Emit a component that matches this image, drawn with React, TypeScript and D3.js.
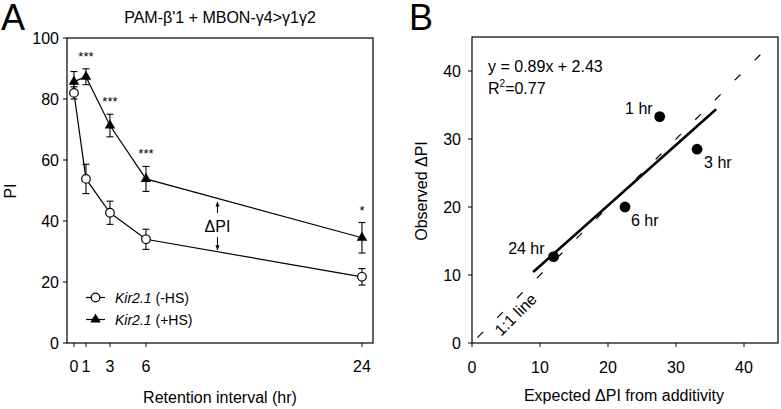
import React from "react";
import * as d3 from "d3";

// ---------- Panel A data ----------
const times = [0, 1, 3, 6, 24];
const timeTicks = [0, 1, 3, 6, 24];
const minusHS = [82, 53.8, 42.7, 34, 21.7];
const minusErr = [2, 4.8, 3.8, 3.3, 2.7];
const plusHS = [85.7, 87.3, 71.3, 53.8, 34.5];
const plusErr = [3.3, 2.6, 3.7, 4.1, 5];
const stars = ["", "***", "***", "***", "*"];
const yTicksA = [0, 20, 40, 60, 80, 100];
const deltaAt = 12;

// ---------- Panel B data ----------
const expected = [27.6, 33.1, 22.5, 12.0];
const observed = [33.3, 28.5, 20.0, 12.7];
const pointLabels = ["1 hr", "3 hr", "6 hr", "24 hr"];
const ticksB = [0, 10, 20, 30, 40];
const slope = 0.89;
const intercept = 2.43;
const fitRange = [9, 35.9];
const identityRange = [0.8, 44];

// label placement (style only)
const labelPos = [
  { dx: -7, dy: -3, anchor: "end" },
  { dx: 7, dy: 19, anchor: "start" },
  { dx: 6, dy: 19, anchor: "start" },
  { dx: -9, dy: -3, anchor: "end" },
];

const FONT = "'Liberation Sans', Arial, Helvetica, sans-serif";

export default function App() {
  // Panel A scales
  const xA = d3.scaleLinear().domain([-0.58, 24.92]).range([67, 373]);
  const yA = d3.scaleLinear().domain([0, 100]).range([343, 38]);
  // Panel B scales
  const xB = d3.scaleLinear().domain([0, 45]).range([472, 778]);
  const yB = d3.scaleLinear().domain([0, 45]).range([343, 37]);

  const lineA = d3
    .line<number>()
    .x((_, i) => xA(times[i]))
    .y((d) => yA(d));

  const tri = d3.symbol().type(d3.symbolTriangle).size(48)() as string;

  const errBar = (x: number, v: number, e: number, key: string) => (
    <g key={key} stroke="#000" strokeWidth={1.1}>
      <line x1={x} x2={x} y1={yA(v - e)} y2={yA(v + e)} />
      <line x1={x - 3.5} x2={x + 3.5} y1={yA(v - e)} y2={yA(v - e)} />
      <line x1={x - 3.5} x2={x + 3.5} y1={yA(v + e)} y2={yA(v + e)} />
    </g>
  );

  // delta PI arrows at t=12
  const upperAtDelta = d3.scaleLinear().domain([6, 24]).range([plusHS[3], plusHS[4]])(deltaAt);
  const lowerAtDelta = d3.scaleLinear().domain([6, 24]).range([minusHS[3], minusHS[4]])(deltaAt);
  const dX = xA(deltaAt) - 0.5;

  return (
    <svg
      width={781}
      height={409}
      style={{ position: "absolute", left: 0, top: 0, background: "#fff" }}
      fontFamily={FONT}
    >
      <defs>
        <marker id="ah" viewBox="0 0 10 10" refX="9" refY="5" markerWidth="5" markerHeight="6" orient="auto">
          <path d="M0,1 L10,5 L0,9 z" fill="#000" />
        </marker>
      </defs>
      <rect width={781} height={409} fill="#fff" />

      {/* ================= Panel A ================= */}
      <text x={1} y={30} fontSize={36}>A</text>
      <text x={220} y={23} fontSize={16} textAnchor="middle">PAM-β'1 + MBON-γ4&gt;γ1γ2</text>

      <rect x={67} y={38} width={306} height={305} fill="none" stroke="#000" strokeWidth={1.2} />

      {yTicksA.map((t) => (
        <g key={"ya" + t}>
          <line x1={63} x2={67} y1={yA(t)} y2={yA(t)} stroke="#000" />
          <text x={59} y={yA(t)} dy="0.36em" fontSize={16} textAnchor="end">{t}</text>
        </g>
      ))}
      {timeTicks.map((t) => (
        <g key={"xa" + t}>
          <line x1={xA(t)} x2={xA(t)} y1={343} y2={347} stroke="#000" />
          <text x={xA(t)} y={372} fontSize={16} textAnchor="middle">{t}</text>
        </g>
      ))}
      <text x={220} y={403} fontSize={16} textAnchor="middle">Retention interval (hr)</text>
      <text transform={`translate(16,191) rotate(-90)`} fontSize={16} textAnchor="middle">PI</text>

      {/* lines */}
      <path d={lineA(minusHS) || ""} fill="none" stroke="#000" strokeWidth={1.2} />
      <path d={lineA(plusHS) || ""} fill="none" stroke="#000" strokeWidth={1.2} />

      {/* error bars */}
      {times.map((t, i) => errBar(xA(t), minusHS[i], minusErr[i], "em" + i))}
      {times.map((t, i) => errBar(xA(t), plusHS[i], plusErr[i], "ep" + i))}

      {/* markers */}
      {times.map((t, i) => (
        <circle key={"cm" + i} cx={xA(t)} cy={yA(minusHS[i])} r={4.3} fill="#fff" stroke="#000" strokeWidth={1.2} />
      ))}
      {times.map((t, i) => (
        <path key={"tp" + i} d={tri} transform={`translate(${xA(t)},${yA(plusHS[i])})`} fill="#000" />
      ))}

      {/* stars */}
      {times.map((t, i) =>
        stars[i] ? (
          <text key={"s" + i} x={xA(t)} y={yA(plusHS[i] + plusErr[i]) - 8} fontSize={13} textAnchor="middle">
            {stars[i]}
          </text>
        ) : null
      )}

      {/* delta PI */}
      <line x1={dX} x2={dX} y1={213} y2={yA(upperAtDelta) + 3.5} stroke="#000" strokeWidth={1} markerEnd="url(#ah)" />
      <line x1={dX} x2={dX} y1={237} y2={yA(lowerAtDelta) - 2} stroke="#000" strokeWidth={1} markerEnd="url(#ah)" />
      <text x={dX} y={231.7} fontSize={16} textAnchor="middle">ΔPI</text>

      {/* legend */}
      <g>
        <line x1={86} x2={105} y1={297.5} y2={297.5} stroke="#000" strokeWidth={1.2} />
        <circle cx={95.5} cy={297.5} r={4.3} fill="#fff" stroke="#000" strokeWidth={1.2} />
        <text x={115} y={302.5} fontSize={14}>
          <tspan fontStyle="italic">Kir2.1</tspan> (-HS)
        </text>
        <line x1={86} x2={105} y1={319.5} y2={319.5} stroke="#000" strokeWidth={1.2} />
        <path d={tri} transform={`translate(95.5,319.5)`} fill="#000" />
        <text x={115} y={324.5} fontSize={14}>
          <tspan fontStyle="italic">Kir2.1</tspan> (+HS)
        </text>
      </g>

      {/* ================= Panel B ================= */}
      <text x={409} y={30} fontSize={36}>B</text>
      <rect x={472} y={37} width={306} height={306} fill="none" stroke="#000" strokeWidth={1.2} />

      {ticksB.map((t) => (
        <g key={"yb" + t}>
          <line x1={468} x2={472} y1={yB(t)} y2={yB(t)} stroke="#000" />
          <text x={461} y={yB(t)} dy="0.36em" fontSize={16} textAnchor="end">{t}</text>
        </g>
      ))}
      {ticksB.map((t) => (
        <g key={"xb" + t}>
          <line x1={xB(t)} x2={xB(t)} y1={343} y2={347} stroke="#000" />
          <text x={xB(t)} y={373} fontSize={16} textAnchor="middle">{t}</text>
        </g>
      ))}
      <text x={624} y={401} fontSize={16} textAnchor="middle">Expected ΔPI from additivity</text>
      <text transform={`translate(427,191) rotate(-90)`} fontSize={16} textAnchor="middle">Observed ΔPI</text>

      {/* 1:1 line */}
      <line
        x1={xB(identityRange[0])}
        y1={yB(identityRange[0])}
        x2={xB(identityRange[1])}
        y2={yB(identityRange[1])}
        stroke="#000"
        strokeWidth={1.2}
        strokeDasharray="8 20"
      />
      <g transform={`translate(${xB(6.4)},${yB(4.2)}) rotate(-45)`}>
        <text x={0} y={0} dy="0.35em" fontSize={16} textAnchor="middle">1:1 line</text>
      </g>

      {/* regression line */}
      <line
        x1={xB(fitRange[0])}
        y1={yB(slope * fitRange[0] + intercept)}
        x2={xB(fitRange[1])}
        y2={yB(slope * fitRange[1] + intercept)}
        stroke="#000"
        strokeWidth={2.6}
      />

      {/* points */}
      {expected.map((e, i) => (
        <g key={"pb" + i}>
          <circle cx={xB(e)} cy={yB(observed[i])} r={5.4} fill="#000" />
          <text
            x={xB(e) + labelPos[i].dx}
            y={yB(observed[i]) + labelPos[i].dy}
            fontSize={16}
            textAnchor={labelPos[i].anchor as any}
          >
            {pointLabels[i]}
          </text>
        </g>
      ))}

      {/* equation */}
      <text x={488} y={72} fontSize={16}>{`y = ${slope}x + ${intercept}`}</text>
      <text x={488} y={94} fontSize={16}>
        R<tspan fontSize={10} dy={-7}>2</tspan>
        <tspan dy={7}>=0.77</tspan>
      </text>
    </svg>
  );
}
